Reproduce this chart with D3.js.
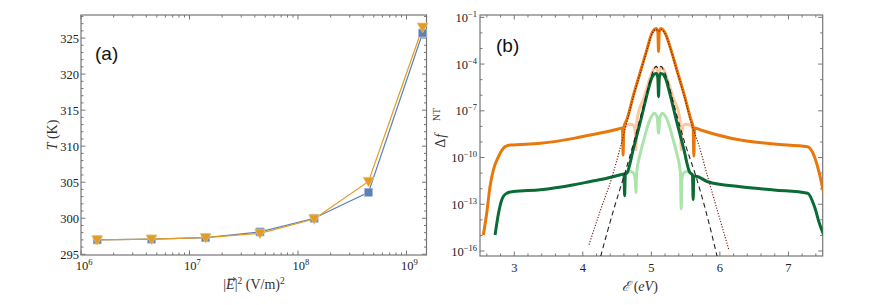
<!DOCTYPE html>
<html>
<head>
<meta charset="utf-8">
<script src="https://cdn.jsdelivr.net/npm/d3@7"></script>
<style>
body { margin: 0; background: #fff; }
svg { display: block; }
.serif { font-family: "Liberation Serif", "DejaVu Serif", serif; }
.sans { font-family: "Liberation Sans", Arial, sans-serif; }
</style>
</head>
<body>
<div id="chart"></div>
<script>
// ---- panel (a): temperature vs |E|^2 ----
var fieldSq = [1.41e6, 4.47e6, 1.41e7, 4.47e7, 1.41e8, 4.47e8, 1.41e9]
var tempSquare = [297.0, 297.1, 297.3, 298.1, 300.0, 303.6, 325.7]
var tempTriangle = [297.0, 297.1, 297.3, 297.9, 299.9, 305.1, 326.5]
var tTicks = [295, 300, 305, 310, 315, 320, 325]
var fieldTicks = [6, 7, 8, 9] // exponents of 10

// ---- panel (b): [energy (eV), log10 of delta f] ----
var orangeDark = [[2.549,-14.97],[2.598,-13.58],[2.646,-11.87],[2.695,-10.80],[2.768,-9.95],[2.866,-9.31],[2.94,-9.2],
  [3.38,-9.09],[3.87,-8.77],[4.11,-8.55],[4.35,-8.34],[4.55,-8.13],[4.578,-8.1],[4.588,-9.85],[4.598,-8.1],
  [4.65,-7.47],[4.74,-5.98],[4.84,-4.49],[4.94,-2.99],[5.00,-2.1],[5.04,-1.8],[5.07,-1.72],[5.095,-1.95],[5.105,-3.2],
  [5.115,-1.95],[5.14,-1.72],[5.17,-1.8],[5.21,-2.1],[5.28,-2.99],[5.38,-4.49],[5.48,-5.98],[5.57,-7.47],[5.61,-8.1],
  [5.62,-9.9],[5.63,-8.1],[5.72,-8.23],[6.30,-8.88],[6.79,-9.13],[7.28,-9.31],[7.38,-9.95],[7.45,-11.0],[7.515,-12.3]]
var orangeLight = [[4.60,-8.1],[4.65,-7.9],[4.70,-7.86],[4.745,-7.95],[4.765,-8.4],[4.775,-9.5],[4.785,-8.0],[4.80,-7.35],
  [4.89,-6.19],[4.98,-4.91],[5.03,-4.35],[5.065,-4.2],[5.09,-4.45],[5.105,-5.6],[5.12,-4.45],[5.145,-4.2],[5.18,-4.35],
  [5.23,-4.91],[5.32,-6.19],[5.41,-7.35],[5.425,-8.0],[5.435,-9.5],[5.445,-8.4],[5.465,-7.95],[5.51,-7.86],[5.56,-7.9],[5.61,-8.1]]
var greenLight = [[4.60,-11.2],[4.65,-10.95],[4.70,-10.9],[4.74,-11.0],[4.765,-11.4],[4.775,-12.25],[4.785,-11.0],[4.79,-10.8],
  [4.84,-9.72],[4.89,-8.87],[4.96,-7.8],[5.01,-7.3],[5.045,-7.15],[5.085,-7.4],[5.105,-8.44],[5.125,-7.4],[5.165,-7.15],
  [5.20,-7.3],[5.25,-7.8],[5.32,-8.87],[5.37,-9.72],[5.42,-10.8],[5.425,-11.0],[5.435,-13.3],[5.445,-11.4],[5.47,-11.0],
  [5.51,-10.9],[5.56,-10.95],[5.61,-11.2]]
var greenDark = [[2.72,-14.97],[2.77,-13.58],[2.817,-12.72],[2.89,-12.29],[2.99,-12.18],[3.38,-12.07],[3.87,-11.75],
  [4.11,-11.54],[4.35,-11.33],[4.55,-11.1],[4.60,-11.05],[4.61,-12.45],[4.62,-11.1],[4.65,-10.95],[4.74,-9.4],[4.84,-7.7],
  [4.94,-5.9],[5.00,-4.95],[5.04,-4.65],[5.075,-4.6],[5.095,-4.9],[5.105,-6.09],[5.115,-4.9],[5.135,-4.6],[5.17,-4.65],
  [5.21,-4.95],[5.27,-5.9],[5.37,-7.7],[5.47,-9.4],[5.56,-10.95],[5.60,-11.1],[5.61,-12.7],[5.62,-11.2],[5.65,-11.2],
  [5.82,-11.55],[6.30,-11.87],[6.79,-12.08],[7.28,-12.29],[7.38,-13.15],[7.45,-14.2],[7.515,-14.97]]
var fitDashed = [[4.26,-16.35],[4.45,-13.35],[4.60,-11.2],[4.74,-9.08],[4.866,-7.0],[4.915,-6.2],[4.98,-5.1],[5.03,-4.4],
  [5.07,-4.15],[5.105,-4.3],[5.14,-4.15],[5.18,-4.4],[5.24,-5.1],[5.305,-6.2],[5.354,-7.0],[5.49,-9.08],[5.65,-11.2],
  [5.79,-13.35],[5.96,-16.35]]
var fitDotted = [[4.09,-15.6],[4.26,-13.35],[4.43,-11.2],[4.55,-9.3],[4.65,-7.6],[4.74,-6.05],[4.84,-4.55],[4.94,-3.05],
  [5.00,-2.15],[5.04,-1.85],[5.07,-1.78],[5.105,-1.9],[5.14,-1.78],[5.17,-1.85],[5.21,-2.15],[5.28,-3.05],[5.38,-4.55],
  [5.48,-6.05],[5.57,-7.6],[5.70,-9.3],[5.82,-11.2],[5.96,-13.35],[6.13,-15.9]]
var energyTicks = [3, 4, 5, 6, 7]
var dfTicks = [-16, -13, -10, -7, -4, -1] // exponents of 10

var width = 872, height = 305
var frameColor = "#767676"

var svg = d3.select("#chart").append("svg")
  .attr("width", width)
  .attr("height", height)

// draws inward ticks on all four sides plus the frame
function frame(g, x, y, xt, yt) {
  var x0 = x.range()[0], x1 = x.range()[1], y0 = y.range()[0], y1 = y.range()[1]
  xt.forEach(function(t) {
    var px = x(t[0]), len = t[1] ? 4.5 : 2.5
    g.append("line").attr("x1", px).attr("x2", px).attr("y1", y0).attr("y2", y0 - len)
    g.append("line").attr("x1", px).attr("x2", px).attr("y1", y1).attr("y2", y1 + len)
  })
  yt.forEach(function(t) {
    var py = y(t[0]), len = t[1] ? 4.5 : 2.5
    g.append("line").attr("x1", x0).attr("x2", x0 + len).attr("y1", py).attr("y2", py)
    g.append("line").attr("x1", x1).attr("x2", x1 - len).attr("y1", py).attr("y2", py)
  })
  g.selectAll("line").attr("stroke", frameColor).attr("stroke-width", 1)
  g.append("rect")
    .attr("x", x0).attr("y", y1)
    .attr("width", x1 - x0).attr("height", y0 - y1)
    .attr("fill", "none").attr("stroke", frameColor).attr("stroke-width", 1.2)
}

function powLabel(g, px, py, exp, anchor) {
  var t = g.append("text")
    .attr("class", "serif")
    .attr("x", px).attr("y", py)
    .attr("text-anchor", anchor)
    .attr("font-size", 12.5).attr("fill", "#222")
  t.append("tspan").text("10")
  t.append("tspan").attr("dy", -5).attr("font-size", 8.5).text(String(exp).replace("-", "\u2212"))
  return t
}

// ================= panel (a) =================
var xa = d3.scaleLog().domain([1e6, 1.53e9]).range([81, 426.5])
var ya = d3.scaleLinear().domain([294.9, 328.2]).range([255, 15])
var ga = svg.append("g")

var xaTicks = []
fieldTicks.forEach(function(k) {
  for (var m = 1; m <= 9; m++) {
    var v = m * Math.pow(10, k)
    if (v <= xa.domain()[1]) xaTicks.push([v, m == 1])
  }
})
var yaTicks = d3.range(295, 329, 1).map(function(v) { return [v, v % 5 == 0] })
frame(ga.append("g"), xa, ya, xaTicks, yaTicks)

tTicks.forEach(function(v) {
  ga.append("text")
    .attr("class", "serif")
    .attr("x", 79).attr("y", ya(v) + 4.5)
    .attr("text-anchor", "end")
    .attr("font-size", 12.5).attr("fill", "#222")
    .text(v)
})
fieldTicks.forEach(function(k) {
  powLabel(ga, xa(Math.pow(10, k)) + 3, 270, k, "middle")
})

var blueC = "#5e81b5", orangeC = "#e19c24"
var lineA = d3.line().x(function(d) { return xa(d[0]) }).y(function(d) { return ya(d[1]) })
var sq = d3.zip(fieldSq, tempSquare), tri = d3.zip(fieldSq, tempTriangle)

ga.append("path").attr("d", lineA(sq)).attr("fill", "none").attr("stroke", blueC).attr("stroke-width", 1.2)
ga.append("path").attr("d", lineA(tri)).attr("fill", "none").attr("stroke", orangeC).attr("stroke-width", 1.2)
ga.selectAll(".sq").data(sq).enter().append("rect")
  .attr("x", function(d) { return xa(d[0]) - 4 })
  .attr("y", function(d) { return ya(d[1]) - 4 })
  .attr("width", 8).attr("height", 8)
  .attr("fill", blueC).attr("stroke", "#a3b6d8").attr("stroke-width", 0.7)
ga.selectAll(".tri").data(tri).enter().append("path")
  .attr("transform", function(d) { return "translate(" + xa(d[0]) + "," + ya(d[1]) + ")" })
  .attr("d", "M-5.5,-4.2L5.5,-4.2L0,5.4Z")
  .attr("fill", orangeC).attr("stroke", "#f0c57a").attr("stroke-width", 0.7)

ga.append("text").attr("class", "sans").attr("x", 95).attr("y", 60)
  .attr("font-size", 19).attr("fill", "#111")
  .text("(a)")

ga.append("text")
  .attr("class", "serif")
  .attr("transform", "translate(57,135) rotate(-90)")
  .attr("text-anchor", "middle")
  .attr("font-size", 14).attr("fill", "#333")
  .html("<tspan font-style='italic'>T</tspan> (K)")

var xlab = ga.append("text")
  .attr("class", "serif")
  .attr("x", 254).attr("y", 289)
  .attr("text-anchor", "middle")
  .attr("font-size", 14).attr("fill", "#333")
xlab.append("tspan").text("|")
xlab.append("tspan").attr("font-style", "italic").text("E")
xlab.append("tspan").text("|")
xlab.append("tspan").attr("dy", -5).attr("font-size", 9.5).text("2")
xlab.append("tspan").attr("dy", 5).text(" (V/m)")
xlab.append("tspan").attr("dy", -5).attr("font-size", 9.5).text("2")
var eBox = xlab.node().getExtentOfChar(1)
var ax0 = eBox.x + 2, ax1 = eBox.x + eBox.width + 1, ay = eBox.y + 2
ga.append("path")
  .attr("d", "M" + ax0 + "," + ay + "L" + ax1 + "," + ay + "M" + (ax1 - 2.5) + "," + (ay - 1.6) + "L" + ax1 + "," + ay + "L" + (ax1 - 2.5) + "," + (ay + 1.6))
  .attr("fill", "none").attr("stroke", "#333").attr("stroke-width", 0.8)

// ================= panel (b) =================
var xb = d3.scaleLinear().domain([2.5, 7.5]).range([480, 822.7])
var yb = d3.scaleLog().domain([Math.pow(10, -16.32), Math.pow(10, -0.85)]).range([256, 15])
var gb = svg.append("g")

var xbTicks = d3.range(2.6, 7.5, 0.2).map(function(v) {
  v = Math.round(v * 10) / 10
  return [v, v % 1 == 0]
})
var ybTicks = d3.range(-16, 0, 1).map(function(k) { return [Math.pow(10, k), (k + 16) % 3 == 0] })
frame(gb.append("g"), xb, yb, xbTicks, ybTicks)

energyTicks.forEach(function(v) {
  gb.append("text")
    .attr("class", "serif")
    .attr("x", xb(v)).attr("y", 272)
    .attr("text-anchor", "middle")
    .attr("font-size", 12.5).attr("fill", "#222")
    .text(v)
})
dfTicks.forEach(function(k) {
  powLabel(gb, 477, yb(Math.pow(10, k)) + 4.5, k, "end")
})

gb.append("clipPath").attr("id", "clipb").append("rect")
  .attr("x", 480).attr("y", 15).attr("width", 342.7).attr("height", 241)
var plot = gb.append("g").attr("clip-path", "url(#clipb)")

var lineB = d3.line()
  .x(function(d) { return xb(d[0]) })
  .y(function(d) { return yb(Math.pow(10, d[1])) })
  .curve(d3.curveMonotoneX)

var series = [
  { data: orangeLight, color: "#fcc79d", w: 3 },
  { data: orangeDark, color: "#e8780a", w: 3 },
  { data: greenLight, color: "#abe4aa", w: 3 },
  { data: greenDark, color: "#0a6b35", w: 3 },
  { data: fitDashed, color: "#222", w: 1.1, dash: "5,3.5" },
  { data: fitDotted, color: "#7a1414", w: 1.1, dash: "1.2,1.6" }
]
series.forEach(function(s) {
  plot.append("path")
    .attr("d", lineB(s.data))
    .attr("fill", "none")
    .attr("stroke", s.color)
    .attr("stroke-width", s.w)
    .attr("stroke-linejoin", "round")
    .attr("stroke-dasharray", s.dash || null)
})

gb.append("text").attr("class", "sans").attr("x", 496).attr("y", 52)
  .attr("font-size", 19).attr("fill", "#111")
  .text("(b)")

var ylab = gb.append("text")
  .attr("class", "serif")
  .attr("transform", "translate(445,128) rotate(-90)")
  .attr("text-anchor", "middle")
  .attr("font-size", 14).attr("fill", "#333")
ylab.append("tspan").text("\u0394")
ylab.append("tspan").attr("font-style", "italic").attr("dx", 1).text("f")
ylab.append("tspan").attr("dx", 13).attr("dy", -5).attr("font-size", 9.5).text("NT")

gb.append("text")
  .attr("class", "serif")
  .attr("x", 640).attr("y", 291)
  .attr("text-anchor", "middle")
  .attr("font-size", 14).attr("fill", "#333")
  .html("<tspan font-style='italic'>\u2130</tspan> (<tspan font-style='italic'>eV</tspan>)")
</script>
</body>
</html>
